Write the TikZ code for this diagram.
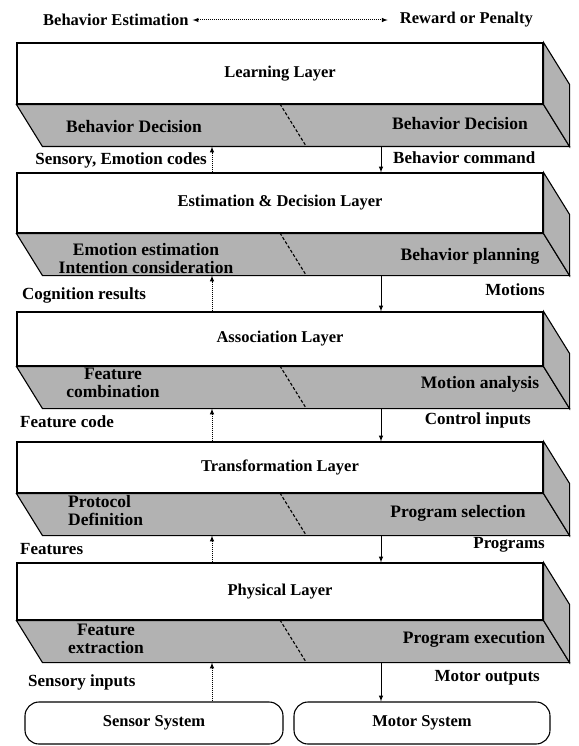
\documentclass[tikz,border=0pt]{standalone}
\usepackage{fontspec}
\setmainfont{Liberation Serif}

\begin{document}
\begin{tikzpicture}[x=1pt,y=-1pt,
    txt/.style={font=\fontsize{17}{18}\selectfont\bfseries,inner sep=0pt},
    layerbox/.style={draw,line width=1.1pt,fill=white,minimum width=526pt,inner sep=0pt,font=\fontsize{16.5}{18}\selectfont\bfseries},
    face/.style={draw,line width=1.1pt,fill=facegray},
    sysbox/.style={draw,line width=1.1pt,rounded corners=14pt,minimum height=42pt,font=\fontsize{16.5}{18}\selectfont\bfseries},
    sense/.style={line width=1pt,densely dotted,-latex},
    act/.style={line width=1pt,-latex}]
    \definecolor{facegray}{HTML}{B2B2B2}
    \useasboundingbox (0,0) rectangle (578,746);
    \coordinate (upx) at (212,0);
    \coordinate (downx) at (381,0);

    % top line
    \node[txt,font=\fontsize{16.5}{18}\selectfont\bfseries,anchor=west] (best) at (43,20) {Behavior Estimation};
    \node[txt,font=\fontsize{16.5}{18}\selectfont\bfseries,anchor=east] (rew) at (533,20) {Reward or Penalty};
    \draw[line width=1pt,densely dotted,latex-latex,shorten <=4pt,shorten >=12pt] (best) -- (rew);

    % learning layer
    \node[layerbox,minimum height=61pt] (learn) at (280,73.5) {Learning Layer};
    \draw[face] (learn.south west) -- (learn.south east) -- ++(26,42) -- ([shift={(26,42)}]learn.south west) -- cycle;
    \draw[face] (learn.north east) -- ++(26,42) -- ([shift={(26,42)}]learn.south east) -- (learn.south east) -- cycle;
    \draw[line width=1.1pt,densely dashed] (280,104) -- ++(26,42);
    \coordinate (learn-back) at ([shift={(26,42)}]learn.south west);
    \node[txt,font=\fontsize{17.5}{18}\selectfont\bfseries] (learn-l) at (134,127) {Behavior Decision};
    \node[txt,font=\fontsize{17.5}{18}\selectfont\bfseries] (learn-r) at (460,124) {Behavior Decision};

    % estimation & decision layer
    \node[layerbox,minimum height=60pt] (est) at (280,203) {Estimation \& Decision Layer};
    \draw[face] (est.south west) -- (est.south east) -- ++(26,42) -- ([shift={(26,42)}]est.south west) -- cycle;
    \draw[face] (est.north east) -- ++(26,42) -- ([shift={(26,42)}]est.south east) -- (est.south east) -- cycle;
    \draw[line width=1.1pt,densely dashed] (280,233) -- ++(26,42);
    \coordinate (est-back) at ([shift={(26,42)}]est.south west);
    \node[txt,font=\fontsize{17.5}{18}\selectfont\bfseries,align=center] (est-l) at (146,259) {Emotion estimation\\Intention consideration};
    \node[txt,font=\fontsize{17.5}{18}\selectfont\bfseries] (est-r) at (470,256) {Behavior planning};

    % association layer
    \node[layerbox,minimum height=54pt] (assoc) at (280,339) {Association Layer};
    \draw[face] (assoc.south west) -- (assoc.south east) -- ++(26,42) -- ([shift={(26,42)}]assoc.south west) -- cycle;
    \draw[face] (assoc.north east) -- ++(26,42) -- ([shift={(26,42)}]assoc.south east) -- (assoc.south east) -- cycle;
    \draw[line width=1.1pt,densely dashed] (280,366) -- ++(26,42);
    \coordinate (assoc-back) at ([shift={(26,42)}]assoc.south west);
    \node[txt,font=\fontsize{17.5}{18}\selectfont\bfseries,align=center] (assoc-l) at (113,383) {Feature\\combination};
    \node[txt,font=\fontsize{17.5}{18}\selectfont\bfseries] (assoc-r) at (480,384) {Motion analysis};

    % transformation layer
    \node[layerbox,minimum height=51pt] (trans) at (280,467.5) {Transformation Layer};
    \draw[face] (trans.south west) -- (trans.south east) -- ++(26,42) -- ([shift={(26,42)}]trans.south west) -- cycle;
    \draw[face] (trans.north east) -- ++(26,42) -- ([shift={(26,42)}]trans.south east) -- (trans.south east) -- cycle;
    \draw[line width=1.1pt,densely dashed] (280,493) -- ++(26,42);
    \coordinate (trans-back) at ([shift={(26,42)}]trans.south west);
    \node[txt,font=\fontsize{17.5}{18}\selectfont\bfseries,align=left,anchor=west] (trans-l) at (68,511) {Protocol\\Definition};
    \node[txt,font=\fontsize{17.5}{18}\selectfont\bfseries] (trans-r) at (458,513) {Program selection};

    % physical layer
    \node[layerbox,minimum height=57pt] (phys) at (280,591.5) {Physical Layer};
    \draw[face] (phys.south west) -- (phys.south east) -- ++(26,42) -- ([shift={(26,42)}]phys.south west) -- cycle;
    \draw[face] (phys.north east) -- ++(26,42) -- ([shift={(26,42)}]phys.south east) -- (phys.south east) -- cycle;
    \draw[line width=1.1pt,densely dashed] (280,620) -- ++(26,42);
    \coordinate (phys-back) at ([shift={(26,42)}]phys.south west);
    \node[txt,font=\fontsize{17.5}{18}\selectfont\bfseries,align=center] (phys-l) at (106,639) {Feature\\extraction};
    \node[txt,font=\fontsize{17.5}{18}\selectfont\bfseries] (phys-r) at (474,639) {Program execution};

    % sensor and motor
    \node[sysbox,minimum width=258pt] (sensor) at (154,723) {Sensor System};
    \node[sysbox,minimum width=256pt] (motor) at (422,723) {Motor System};

    % flows between layers
    \draw[sense] (est.north -| upx) -- (learn-back -| upx);
    \draw[act] (learn-back -| downx) -- (est.north -| downx);
    \draw[sense] (assoc.north -| upx) -- (est-back -| upx);
    \draw[act] (est-back -| downx) -- (assoc.north -| downx);
    \draw[sense] (trans.north -| upx) -- (assoc-back -| upx);
    \draw[act] (assoc-back -| downx) -- (trans.north -| downx);
    \draw[sense] (phys.north -| upx) -- (trans-back -| upx);
    \draw[act] (trans-back -| downx) -- (phys.north -| downx);
    \draw[sense] (sensor.north -| upx) -- (phys-back -| upx);
    \draw[act] (phys-back -| downx) -- (motor.north -| downx);

    % flow labels
    \node[txt,anchor=east] (l1) at (207,160) {Sensory, Emotion codes};
    \node[txt,anchor=west] (r1) at (393,158) {Behavior command};
    \node[txt,anchor=west] (l2) at (22,295) {Cognition results};
    \node[txt,anchor=east] (r2) at (545,290) {Motions};
    \node[txt,anchor=west] (l3) at (20,422) {Feature code};
    \node[txt,anchor=east] (r3) at (531,420) {Control inputs};
    \node[txt,anchor=west] (l4) at (20,549) {Features};
    \node[txt,anchor=east] (r4) at (545,545) {Programs};
    \node[txt,anchor=west] (l5) at (28,682) {Sensory inputs};
    \node[txt,anchor=east] (r5) at (540,678) {Motor outputs};
\end{tikzpicture}
\end{document}
